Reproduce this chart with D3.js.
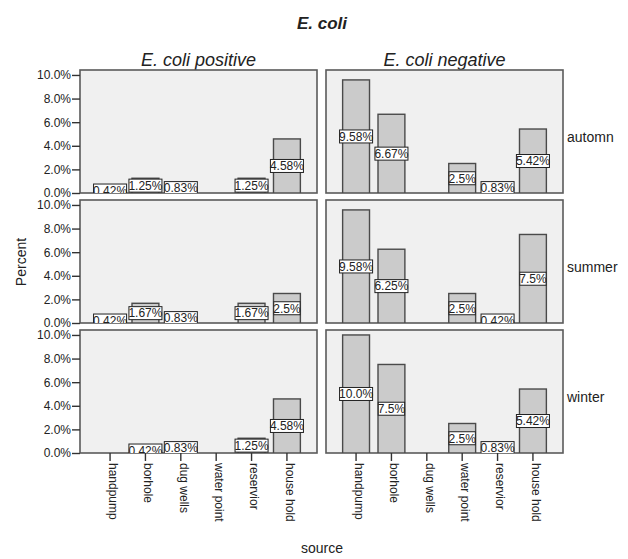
<!DOCTYPE html>
<html>
<head>
<meta charset="utf-8">
<script src="https://cdn.jsdelivr.net/npm/d3@7"></script>
<style>
  body { margin: 0; background: #fff; }
  text { font-family: "Liberation Sans", Arial, sans-serif; fill: #222; }
</style>
</head>
<body>
<svg width="628" height="559"></svg>
<script>
// categories and values (percent)
const sources = ["handpump", "borhole", "dug wells", "water point", "reservior", "house hold"];
const groups = ["E. coli positive", "E. coli negative"];
const seasons = ["automn", "summer", "winter"];
const yTicks = [0, 2, 4, 6, 8, 10];

const positiveAutomn = [0.42, 1.25, 0.83, 0, 1.25, 4.58];
const positiveSummer = [0.42, 1.67, 0.83, 0, 1.67, 2.5];
const positiveWinter = [0, 0.42, 0.83, 0, 1.25, 4.58];
const negativeAutomn = [9.58, 6.67, 0, 2.5, 0.83, 5.42];
const negativeSummer = [9.58, 6.25, 0, 2.5, 0.42, 7.5];
const negativeWinter = [10.0, 7.5, 0, 2.5, 0.83, 5.42];

const values = [
  [positiveAutomn, negativeAutomn],
  [positiveSummer, negativeSummer],
  [positiveWinter, negativeWinter]
];

const svg = d3.select("svg");

const colX = [80, 326];   // left edge of each column
const rowY = [70, 200, 330]; // top edge of each row
const pw = 237, ph = 123;

const x = d3.scaleBand().domain(sources).range([0, pw]).paddingInner(0.24).paddingOuter(0.47);
const y = d3.scaleLinear().domain([0, 10.42]).range([ph, 0]);

const fmt = v => v === 10 ? "10.0%" : (+v.toFixed(2)) + "%";

// title + column headers
svg.append("text").attr("x", 322).attr("y", 29).attr("text-anchor", "middle")
  .style("font-size", "17px").style("font-weight", "bold").style("font-style", "italic")
  .text("E. coli");

groups.forEach((g, ci) => {
  svg.append("text").attr("x", colX[ci] + pw / 2 - 0).attr("y", 66).attr("text-anchor", "middle")
    .style("font-size", "18px").style("font-style", "italic").text(g);
});

seasons.forEach((s, ri) => {
  groups.forEach((g, ci) => {
    const p = svg.append("g").attr("transform", `translate(${colX[ci]},${rowY[ri]})`);
    const id = "clip" + ri + ci;
    p.append("clipPath").attr("id", id).append("rect").attr("width", pw).attr("height", ph);

    p.append("rect").attr("width", pw).attr("height", ph)
      .attr("fill", "#f0f0f0").attr("stroke", "#5a5a5a").attr("stroke-width", 1.6);

    const data = sources.map((src, i) => ({ src, v: values[ri][ci][i] })).filter(d => d.v > 0);
    const inner = p.append("g").attr("clip-path", `url(#${id})`);

    inner.selectAll(".bar").data(data).join("rect")
      .attr("class", "bar")
      .attr("x", d => x(d.src)).attr("width", x.bandwidth())
      .attr("y", d => y(d.v)).attr("height", d => y(0) - y(d.v))
      .attr("fill", "#cbcbcb").attr("stroke", "#4a4a4a").attr("stroke-width", 1.4);

    const lab = inner.selectAll(".lab").data(data).join("g")
      .attr("class", "lab")
      .attr("transform", d => `translate(${x(d.src) + x.bandwidth() / 2},${(y(d.v) + y(0)) / 2})`);
    const box = lab.append("rect").attr("fill", "#fff").attr("stroke", "#222").attr("stroke-width", 1);
    const txt = lab.append("text").attr("text-anchor", "middle").attr("dy", "0.36em")
      .style("font-size", "12px").text(d => fmt(d.v));
    txt.each(function () {
      const w = this.getComputedTextLength();
      d3.select(this.previousSibling).attr("x", -w / 2 + 0.5).attr("width", w - 1)
        .attr("y", -6.5).attr("height", 13);
    });

    if (ci === 0) {
      p.append("g")
        .call(d3.axisLeft(y).tickValues(yTicks).tickSize(8).tickPadding(1).tickFormat(d => d.toFixed(1) + "%"))
        .call(a => a.select(".domain").remove())
        .call(a => a.selectAll("line").attr("stroke", "#333").attr("stroke-width", 1.4))
        .call(a => a.selectAll("text").style("font-size", "12px").attr("fill", "#222").attr("font-family", null));
    }
    if (ci === 1) {
      svg.append("text").attr("x", colX[1] + pw + 4).attr("y", rowY[ri] + ph / 2 + 10)
        .style("font-size", "14px").text(s);
    }
    if (ri === seasons.length - 1) {
      const ax = p.append("g").attr("transform", `translate(0,${ph})`)
        .call(d3.axisBottom(x).tickSize(8).tickPadding(2))
        .call(a => a.select(".domain").remove())
        .call(a => a.selectAll("line").attr("stroke", "#333").attr("stroke-width", 1.4));
      ax.selectAll("text")
        .attr("font-family", null)
        .style("font-size", "12px").attr("fill", "#222")
        .attr("transform", "rotate(90)")
        .attr("text-anchor", "start")
        .attr("x", 10).attr("y", 0).attr("dy", "0.1em");
    }
  });
});

svg.append("text").attr("transform", "translate(26,262) rotate(-90)").attr("text-anchor", "middle")
  .style("font-size", "14px").text("Percent");
svg.append("text").attr("x", 322).attr("y", 553).attr("text-anchor", "middle")
  .style("font-size", "14px").text("source");
</script>
</body>
</html>
